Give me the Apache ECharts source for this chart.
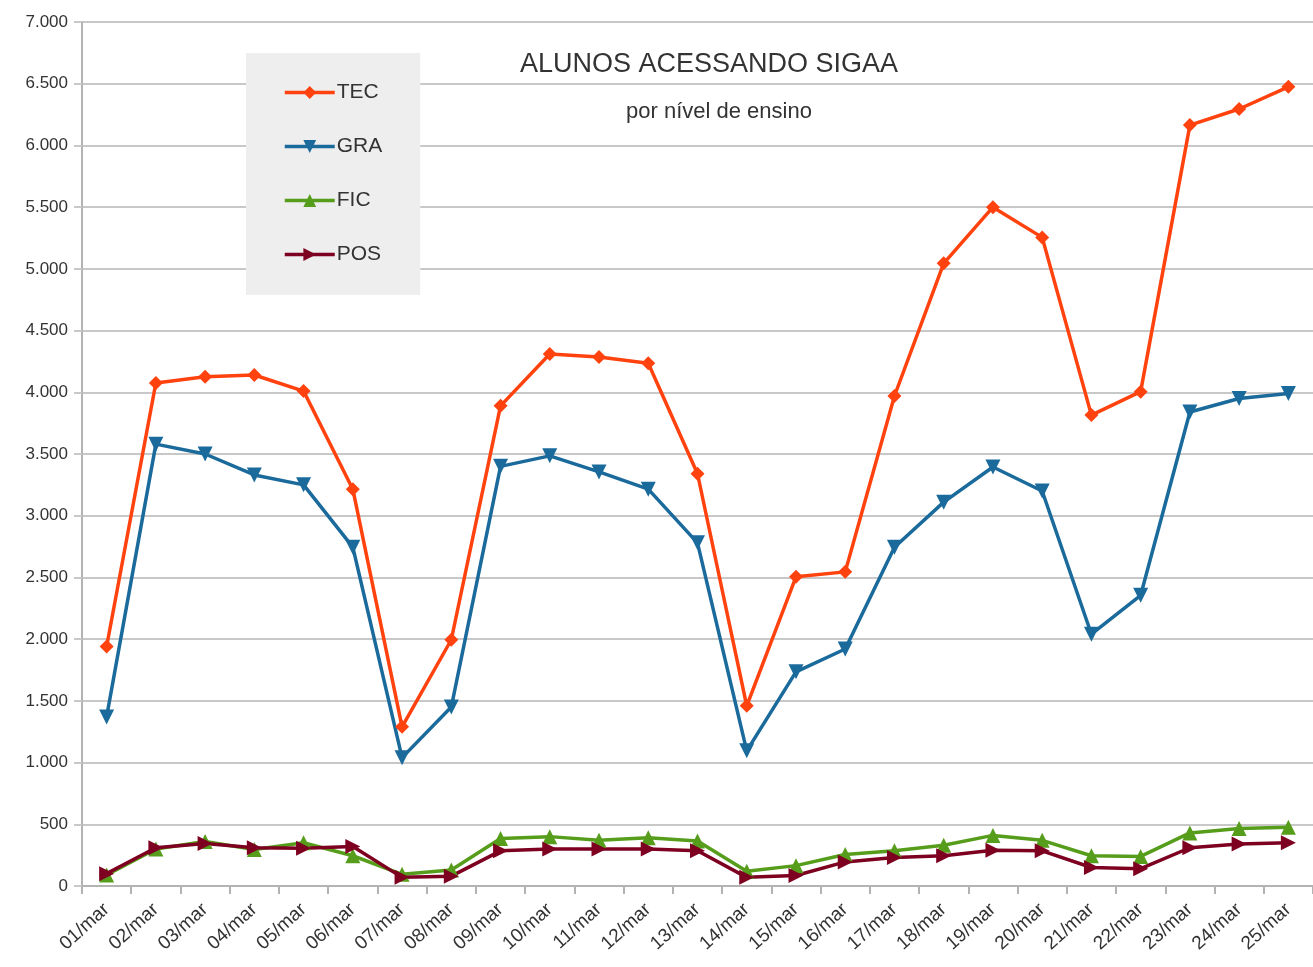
<!DOCTYPE html>
<html>
<head>
<meta charset="utf-8">
<script src="https://cdn.jsdelivr.net/npm/echarts@6/dist/echarts.min.js"></script>
<style>
  html, body { margin: 0; padding: 0; background: #fff; }
  #chart { width: 1313px; height: 967px; }
</style>
</head>
<body>
<div id="chart"></div>
<script>
// dias do mes
const dias = ['01/mar', '02/mar', '03/mar', '04/mar', '05/mar', '06/mar', '07/mar', '08/mar',
  '09/mar', '10/mar', '11/mar', '12/mar', '13/mar', '14/mar', '15/mar', '16/mar', '17/mar',
  '18/mar', '19/mar', '20/mar', '21/mar', '22/mar', '23/mar', '24/mar', '25/mar'];

// alunos por nivel
const tec = [1940, 4075, 4125, 4140, 4010, 3215, 1290, 1995, 3890, 4310, 4285, 4235, 3340,
  1460, 2505, 2545, 3970, 5045, 5500, 5255, 3815, 4005, 6165, 6295, 6475];
const gra = [1370, 3580, 3500, 3330, 3250, 2745, 1040, 1450, 3400, 3485, 3355, 3215, 2780,
  1095, 1735, 1920, 2745, 3110, 3395, 3200, 2040, 2355, 3840, 3950, 3990];
const fic = [90, 300, 360, 295, 350, 245, 95, 130, 385, 400, 370, 390, 365,
  120, 165, 255, 285, 330, 410, 370, 245, 240, 430, 465, 475];
const pos = [100, 310, 345, 310, 305, 320, 70, 80, 285, 300, 300, 300, 285,
  70, 85, 195, 230, 245, 290, 285, 150, 140, 310, 340, 350];

const fmt = v => String(v).replace(/\B(?=(\d{3})+(?!\d))/g, '.');

const chart = echarts.init(document.getElementById('chart'), null, { renderer: 'canvas' });

function linha(nome, dados, cor, simbolo, tam, giro) {
  return {
    name: nome,
    type: 'line',
    data: dados,
    symbol: simbolo,
    symbolSize: tam,
    symbolRotate: giro,
    lineStyle: { color: cor, width: 3.5 },
    itemStyle: { color: cor },
    z: 3
  };
}

chart.setOption({
  animation: false,
  textStyle: { fontFamily: 'Liberation Sans' },
  title: [
    { text: 'ALUNOS ACESSANDO SIGAA', left: 704, top: 46, textAlign: 'center',
      textStyle: { fontSize: 27, fontWeight: 'normal', color: '#333' } },
    { text: 'por nível de ensino', left: 714, top: 96, textAlign: 'center',
      textStyle: { fontSize: 22, fontWeight: 'normal', color: '#333' } }
  ],
  legend: {
    orient: 'vertical',
    left: 246,
    top: 53,
    backgroundColor: '#eeeeee',
    padding: [29, 38, 30, 37],
    itemGap: 33,
    itemWidth: 50,
    itemHeight: 16,
    lineStyle: { width: 3.5 },
    textStyle: { fontSize: 21, color: '#333', padding: [0, 0, 0, -3] },
    data: ['TEC', 'GRA', 'FIC', 'POS']
  },
  grid: { left: 82, right: 0, top: 22, bottom: 81, containLabel: false },
  xAxis: {
    type: 'category',
    data: dias,
    boundaryGap: true,
    axisLine: { lineStyle: { color: '#b3b3b3', width: 2 } },
    axisTick: { show: true, length: 8, lineStyle: { color: '#b3b3b3', width: 2 } },
    axisLabel: { rotate: 42, fontSize: 19, color: '#333', margin: 21, interval: 0 }
  },
  yAxis: {
    type: 'value',
    min: 0,
    max: 7000,
    interval: 500,
    axisLine: { show: true, lineStyle: { color: '#b3b3b3', width: 2 } },
    axisTick: { show: true, length: 8, lineStyle: { color: '#c8c8c8', width: 2 } },
    splitLine: { lineStyle: { color: '#c8c8c8', width: 2 } },
    axisLabel: { fontSize: 17, color: '#333', margin: 14, formatter: fmt }
  },
  series: [
    linha('TEC', tec, '#ff420e', 'diamond', 14, 0),
    linha('GRA', gra, '#1a6a9c', 'triangle', 15, 180),
    linha('FIC', fic, '#579d1c', 'triangle', 15, 0),
    linha('POS', pos, '#7e0021', 'triangle', 15, -90)
  ]
});
</script>
</body>
</html>
